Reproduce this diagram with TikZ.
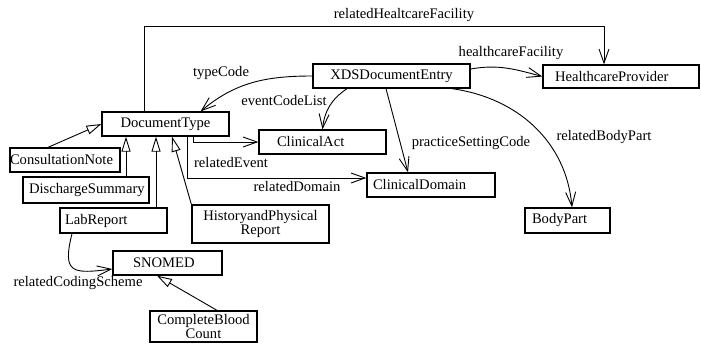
\documentclass[tikz,border=0pt]{standalone}
\usepackage{fontspec}
\setmainfont{Liberation Serif}
\usetikzlibrary{arrows.meta, positioning}

\begin{document}
\begin{tikzpicture}[
        x=1pt, y=-1pt,
        every node/.style={font=\fontsize{14.6}{12.5}\selectfont},
        cls/.style={draw, line width=1.3pt, rectangle, inner ysep=0pt, minimum height=24pt, align=left},
        lbl/.style={inner sep=0pt},
        assoc/.style={line width=0.9pt, -{Straight Barb[length=14pt, width=10pt]}},
        gen/.style={line width=0.9pt, -{Triangle[open, length=15pt, width=9pt]}}
    ]
        \useasboundingbox (0,0) rectangle (701,343);

        % Klassen
        \node [cls, text width=147pt, inner xsep=5pt, align=center] (xds) at (391.5,76) {XDSDocumentEntry};
        \node [cls, text width=132pt, inner xsep=12pt, minimum height=23pt] (hcp) at (621,76.5) {HealthcareProvider};
        \node [cls, text width=117pt, inner xsep=5pt, align=center] (doctype) at (165.5,124) {DocumentType};
        \node [cls, text width=91pt, inner xsep=18pt] (cact) at (322.5,142) {ClinicalAct};
        \node [cls, text width=110pt, inner xsep=0pt] (consult) at (65,160) {ConsultationNote};
        \node [cls, text width=114pt, inner xsep=6pt, minimum height=26pt] (discharge) at (86,190) {DischargeSummary};
        \node [cls, text width=97pt, inner xsep=5pt, minimum height=25pt] (lab) at (113.5,220.5) {LabReport};
        \node [cls, text width=123pt, inner xsep=7pt, minimum height=38pt, align=center] (hist) at (260.5,224) {HistoryandPhysical\\Report};
        \node [cls, text width=69pt, inner xsep=20pt] (snomed) at (167.5,263) {SNOMED};
        \node [cls, text width=97pt, inner xsep=5pt, minimum height=31pt, align=center] (cbc) at (203.5,326.5) {CompleteBlood\\Count};
        \node [cls, text width=116pt, inner xsep=6pt] (cdomain) at (431,185) {ClinicalDomain};
        \node [cls, text width=71pt, inner xsep=7pt, minimum height=25pt] (bodypart) at (567.5,220.5) {BodyPart};

        % Assoziationen
        \draw[assoc] ([xshift=-21.5pt]doctype.north) -- ++(0,-85) -| ([xshift=-17pt]hcp.north);
        \draw[assoc] (xds.west) to[out=180, in=40] ([xshift=-29pt]doctype.north east);
        \draw[assoc] ([xshift=-44.5pt]xds.south) to[bend right=25] (cact.north);
        \draw[assoc] ([xshift=-5.5pt]xds.south) -- ([xshift=-23pt]cdomain.north);
        \draw[assoc] ([yshift=7pt]xds.east) to[out=10, in=165] (hcp.west);
        \draw[assoc] ([xshift=60.5pt]xds.south) to[out=-8, in=95] ([xshift=4.5pt]bodypart.north);
        \draw[assoc] ([xshift=27.5pt]doctype.south) |- (cact.west);
        \draw[assoc] ([xshift=21.5pt]doctype.south) |- ([yshift=7pt]cdomain.west);
        \draw[assoc] ([xshift=-41.5pt]lab.south) .. controls +(-10,40) and +(-40,5) .. ([yshift=-6pt]snomed.west);

        % Vererbung
        \draw[gen] ([xshift=-17pt]consult.north) -- (doctype.west);
        \draw[gen] ([xshift=40pt]discharge.north) -- ([xshift=40pt]discharge.north |- doctype.south);
        \draw[gen] ([xshift=42.5pt]lab.north) -- ([xshift=42.5pt]lab.north |- doctype.south);
        \draw[gen] (hist.north west) -- ([xshift=6.5pt]doctype.south);
        \draw[gen] ([xshift=13.5pt]cbc.north) -- ([xshift=-10.5pt]snomed.south);

        % Beschriftungen
        \node[lbl] (lhcf) at (404,15) {relatedHealtcareFacility};
        \node[lbl] (ltype) at (221,73) {typeCode};
        \node[lbl] (levent) at (284,101) {eventCodeList};
        \node[lbl] (lfac) at (511,53) {healthcareFacility};
        \node[lbl] (lpract) at (471,143) {practiceSettingCode};
        \node[lbl] (lbody) at (604,137) {relatedBodyPart};
        \node[lbl] (lrevent) at (231,163) {relatedEvent};
        \node[lbl] (ldomain) at (297,187) {relatedDomain};
        \node[lbl] (lcoding) at (78,283) {relatedCodingScheme};
    \end{tikzpicture}
\end{document}
